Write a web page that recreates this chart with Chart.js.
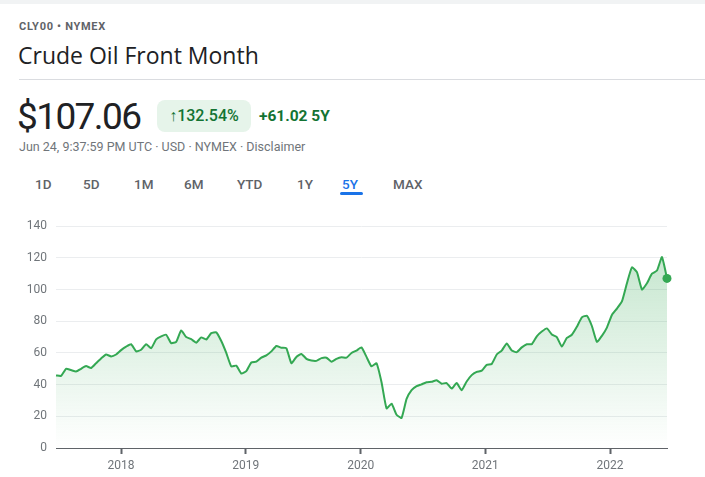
<!DOCTYPE html>
<html lang="en">
<head>
    <meta charset="UTF-8">
    <title>Crude Oil Front Month</title>
    <script src="https://cdn.jsdelivr.net/npm/chart.js"></script>
    <style>
        body {
            margin: 0;
            width: 705px;
            height: 477px;
            background: #fff;
            font-family: Roboto, Arial, sans-serif;
            position: relative;
            overflow: hidden;
        }

        .topbar {
            position: absolute;
            left: 0; top: 0;
            width: 705px; height: 4px;
            background: #f1f3f4;
        }

        .symbol {
            position: absolute;
            left: 19px; top: 20px;
            font-size: 11px;
            font-weight: 700;
            letter-spacing: 0.7px;
            color: #5f6368;
        }

        .title {
            position: absolute;
            left: 18px; top: 39px;
            font-family: "Open Sans", Roboto, sans-serif;
            font-size: 23px;
            color: #202124;
        }

        .divider {
            position: absolute;
            left: 19px; top: 79px;
            width: 686px; height: 1px;
            background: #dadce0;
        }

        .price {
            position: absolute;
            left: 17px; top: 95px;
            font-family: Roboto, sans-serif;
            font-size: 37px;
            letter-spacing: -1.6px;
            color: #202124;
        }

        .pill {
            position: absolute;
            left: 157px; top: 100px;
            width: 94px; height: 32px;
            border-radius: 8px;
            background: #e6f4ea;
            color: #137333;
            font-size: 16px;
            font-weight: 500;
            line-height: 32px;
            text-align: center;
        }

        .change {
            position: absolute;
            left: 259px; top: 107px;
            font-size: 15.5px;
            font-weight: 700;
            color: #137333;
        }

        .stamp {
            position: absolute;
            left: 19px; top: 139px;
            font-size: 12.5px;
            color: #70757a;
        }

        .tabs span {
            position: absolute;
            top: 176px;
            font-size: 13.5px;
            font-weight: 500;
            color: #5f6368;
        }

        .tabs .active {
            color: #1a73e8;
        }

        .underline {
            position: absolute;
            left: 340px; top: 192px;
            width: 23px; height: 3px;
            border-radius: 2px;
            background: #1a73e8;
        }

        .chart-box {
            position: absolute;
            left: 0; top: 210px;
            width: 705px; height: 267px;
        }
    </style>
</head>
<body>
    <div class="topbar"></div>
    <div class="symbol">CLY00 • NYMEX</div>
    <div class="title">Crude Oil Front Month</div>
    <div class="divider"></div>
    <div class="price">$107.06</div>
    <div class="pill">↑132.54%</div>
    <div class="change">+61.02 5Y</div>
    <div class="stamp">Jun 24, 9:37:59 PM UTC · USD · NYMEX · Disclaimer</div>
    <div class="tabs">
        <span style="left:35px">1D</span>
        <span style="left:83px">5D</span>
        <span style="left:134px">1M</span>
        <span style="left:184px">6M</span>
        <span style="left:237px">YTD</span>
        <span style="left:297px">1Y</span>
        <span class="active" style="left:342px">5Y</span>
        <span style="left:393px">MAX</span>
    </div>
    <div class="underline"></div>
    <div class="chart-box">
        <canvas id="oilChart"></canvas>
    </div>
    <script>
        // price samples, roughly evenly spaced from late Jun 2017 to Jun 24 2022
        const prices = [
            45.8, 45.5, 50, 49.2, 48.3, 50, 51.7, 50.5, 53.5, 56.5,
            59, 57.8, 59, 61.8, 64, 65.5, 61, 62, 65.5, 63,
            68.5, 70.5, 71.5, 66.2, 67, 74.2, 70, 68.7, 66.5, 69.8,
            68.5, 72.5, 73, 67.5, 60, 51.5, 52, 47, 48.5, 54,
            54.5, 57, 58.5, 61, 64.4, 63.3, 63, 53.5, 57.5, 59.4,
            56.3, 55.2, 55, 56.7, 57, 54.5, 56.3, 57.3, 57, 60,
            61.5, 63.5, 57.5, 51.5, 53.5, 41.5, 25, 28, 21, 19,
            31, 36.5, 39, 40.2, 41.5, 41.8, 42.8, 40.6, 41, 37.5,
            41, 36.5, 42, 46, 48, 48.8, 52.5, 53, 59, 61.5,
            66, 61.5, 60.5, 63.5, 65.5, 65.5, 70.5, 73.5, 75.5, 71.7,
            70, 64, 69.5, 71.5, 76.5, 82.5, 83.5, 77, 67, 70.8,
            76, 84, 88, 92.5, 104, 114, 111, 100, 104, 110,
            112, 120.5, 107.06
        ];

        // where each new year starts, in sample index units
        const yearTickIndex = [12.98, 37.88, 60.84, 85.72, 110.62];
        const yearLabels = ['2018', '2019', '2020', '2021', '2022'];

        const yTicks = [0, 20, 40, 60, 80, 100, 120, 140];

        const lineGreen = '#34a853';
        const tickGrey = '#70757a';

        const ctx = document.getElementById('oilChart').getContext('2d');
        const lastIndex = prices.length - 1;

        new Chart(ctx, {
            type: 'line',
            data: {
                datasets: [{
                    data: prices.map((v, i) => ({ x: i, y: v })),
                    borderColor: lineGreen,
                    borderWidth: 2,
                    tension: 0.15,
                    clip: false,
                    fill: 'origin',
                    backgroundColor: (c) => {
                        const area = c.chart.chartArea;
                        if (!area) return 'rgba(52,168,83,0.1)';
                        const g = c.chart.ctx.createLinearGradient(0, area.top, 0, area.bottom);
                        g.addColorStop(0, 'rgba(52,168,83,0.32)');
                        g.addColorStop(1, 'rgba(52,168,83,0.0)');
                        return g;
                    },
                    pointRadius: (c) => c.dataIndex === lastIndex ? 4.5 : 0,
                    pointBackgroundColor: lineGreen,
                    pointBorderWidth: 0,
                    pointHoverRadius: 0
                }]
            },
            options: {
                responsive: true,
                maintainAspectRatio: false,
                animation: false,
                layout: {
                    padding: { top: 14, right: 38, left: 0, bottom: 0 }
                },
                plugins: {
                    legend: { display: false },
                    tooltip: { enabled: false }
                },
                scales: {
                    x: {
                        type: 'linear',
                        min: 0,
                        max: lastIndex,
                        afterBuildTicks: (axis) => {
                            axis.ticks = yearTickIndex.map(v => ({ value: v }));
                        },
                        afterFit: (scale) => { scale.height = 29; },
                        ticks: {
                            autoSkip: false,
                            maxRotation: 0,
                            padding: 5,
                            color: tickGrey,
                            font: { family: 'Roboto', size: 12 },
                            callback: (value, index) => yearLabels[index]
                        },
                        grid: {
                            drawOnChartArea: false,
                            drawTicks: true,
                            tickLength: 6,
                            tickWidth: 2,
                            tickColor: '#5f6368'
                        },
                        border: { color: '#5f6368', width: 1 }
                    },
                    y: {
                        min: 0,
                        max: 140,
                        afterBuildTicks: (axis) => {
                            axis.ticks = yTicks.map(v => ({ value: v }));
                        },
                        afterFit: (scale) => { scale.width = 56; },
                        ticks: {
                            padding: 9,
                            color: tickGrey,
                            font: { family: 'Roboto', size: 12 }
                        },
                        grid: {
                            color: '#ebedef',
                            drawTicks: false
                        },
                        border: { display: false }
                    }
                }
            }
        });
    </script>
</body>
</html>
